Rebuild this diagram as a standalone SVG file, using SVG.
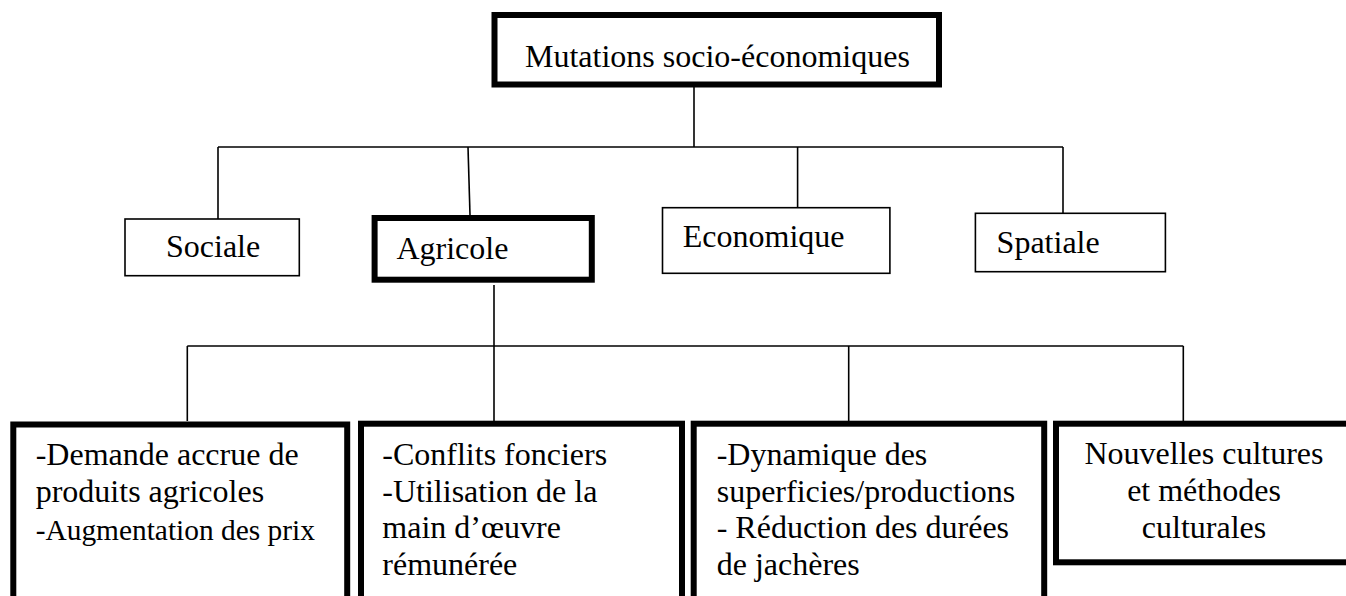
<svg xmlns="http://www.w3.org/2000/svg" width="1346" height="596" viewBox="0 0 1346 596">
<style>
text{font-family:"Liberation Serif","Times New Roman",serif;font-size:32px;fill:#000}
.thick{fill:#fff;stroke:#000;stroke-width:6}
.thin{fill:#fff;stroke:#000;stroke-width:1.6}
.conn line{stroke:#000;stroke-width:1.6}
.mid{text-anchor:middle}
</style>
<rect width="1346" height="596" fill="#fff"/>
<g class="conn" id="connectors">
<line x1="694" y1="87" x2="694" y2="147"/>
<line x1="218" y1="147" x2="1063" y2="147"/>
<line x1="218" y1="147" x2="218" y2="219"/>
<line x1="468" y1="147" x2="470" y2="215"/>
<line x1="797.6" y1="147" x2="797.6" y2="208"/>
<line x1="1063" y1="147" x2="1063" y2="213"/>
<line x1="494" y1="285" x2="494" y2="421"/>
<line x1="187.3" y1="346" x2="1183.3" y2="346"/>
<line x1="187.3" y1="346" x2="187.3" y2="421"/>
<line x1="848.7" y1="346" x2="848.7" y2="421"/>
<line x1="1183.3" y1="346" x2="1183.3" y2="421"/>
</g>
<g id="root">
<rect class="thick" x="494.5" y="15" width="444.5" height="69.5"/>
<text x="525" y="67">Mutations socio-économiques</text>
</g>
<g id="sociale">
<rect class="thin" x="125" y="219" width="174.3" height="56.7" stroke-width="1.2"/>
<text x="166" y="257">Sociale</text>
</g>
<g id="agricole">
<rect class="thick" x="374.6" y="218" width="217.2" height="61.7"/>
<text x="396.4" y="259.3">Agricole</text>
</g>
<g id="economique">
<rect class="thin" x="662.5" y="207.7" width="227.4" height="65.6"/>
<text x="682.8" y="247.3">Economique</text>
</g>
<g id="spatiale">
<rect class="thin" x="975.4" y="213.3" width="190" height="58.4"/>
<text x="996.6" y="252.7">Spatiale</text>
</g>
<g id="demande">
<rect class="thick" x="13.3" y="424.5" width="333.9" height="190"/>
<text x="35.7" y="465">-Demande accrue de</text>
<text x="35.7" y="501.7">produits agricoles</text>
<text x="35.7" y="540" style="font-size:29.4px">-Augmentation des prix</text>
</g>
<g id="conflits">
<rect class="thick" x="361" y="423.7" width="321" height="190"/>
<text x="382.3" y="465">-Conflits fonciers</text>
<text x="382.3" y="501.7">-Utilisation de la</text>
<text x="382.3" y="538.3">main d’œuvre</text>
<text x="382.3" y="575">rémunérée</text>
</g>
<g id="dynamique">
<rect class="thick" x="693.7" y="423.7" width="350.5" height="190"/>
<text x="716.7" y="465">-Dynamique des</text>
<text x="716.7" y="501.7">superficies/productions</text>
<text x="716.7" y="538.3">- Réduction des durées</text>
<text x="716.7" y="575">de jachères</text>
</g>
<g id="nouvelles">
<rect class="thick" x="1056" y="423.7" width="320" height="138.6"/>
<text class="mid" x="1204" y="464">Nouvelles cultures</text>
<text class="mid" x="1204" y="500.7">et méthodes</text>
<text class="mid" x="1204" y="538.3">culturales</text>
</g>
</svg>
